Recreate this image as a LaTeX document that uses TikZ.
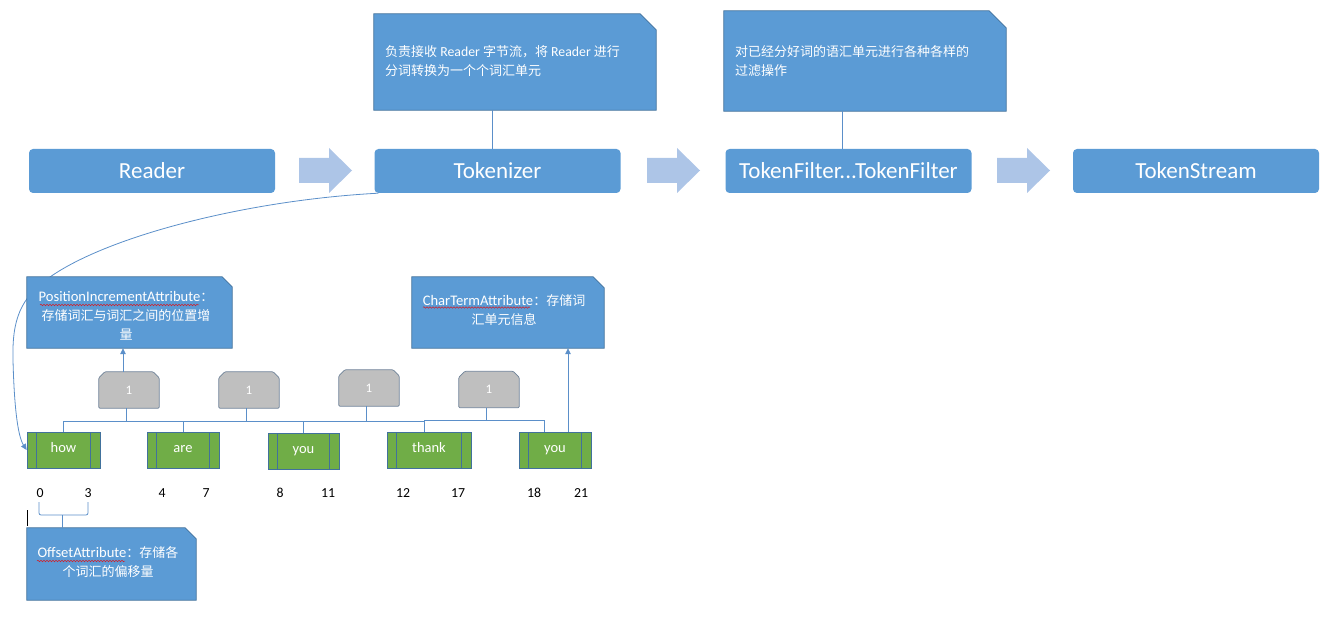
\documentclass[tikz,border=0pt]{standalone}
\usepackage{fontspec}
\setmainfont{Carlito}
\newfontfamily\cjk{Noto Sans CJK SC}
\newcommand\zh[1]{{\fontsize{13}{19}\cjk #1}}
\usetikzlibrary{calc,arrows.meta,decorations.pathmorphing}
\pgfdeclarelayer{bg}
\pgfdeclarelayer{shp}
\pgfsetlayers{bg,shp,main}
\definecolor{mblue}{HTML}{5B9BD5}
\definecolor{bord}{HTML}{41719C}
\definecolor{lblue}{HTML}{ADC5E7}
\definecolor{mgreen}{HTML}{70AD47}
\definecolor{mgray}{HTML}{BFBFBF}
\definecolor{gbord}{HTML}{6F8298}
\definecolor{cline}{HTML}{5B8FC9}
\definecolor{sred}{HTML}{D0202A}
\newcommand\snipTR[2]{\begin{pgfonlayer}{shp}\path[notefill] (#1.north west) -- ($(#1.north east)+(-#2,0)$) -- ($(#1.north east)+(0,#2)$) -- (#1.south east) -- (#1.south west) -- cycle;\end{pgfonlayer}}
\newcommand\snipTop[1]{\begin{pgfonlayer}{shp}\path[grayfill] (#1.south west) -- ($(#1.north west)+(0,6)$) -- ($(#1.north west)+(6,0)$) -- ($(#1.north east)+(-6,0)$) -- ($(#1.north east)+(0,6)$) -- (#1.south east) -- cycle;\end{pgfonlayer}}
\newcommand\blockarrow[1]{\path[barrow] (#1,158) -- ++(30,0) -- ++(0,-10) -- ++(23,22.5) -- ++(-23,22.5) -- ++(0,-10) -- ++(-30,0) -- cycle;}
\begin{document}
\begin{tikzpicture}[x=1pt,y=-1pt,
  mainbox/.style={rectangle, rounded corners=4pt, fill=mblue, text=white, inner sep=0pt,
    minimum width=246pt, minimum height=44pt, font=\fontsize{23}{27}\selectfont},
  area/.style={rectangle, inner sep=0pt},
  notefill/.style={fill=mblue, draw=bord, line width=0.7pt},
  grayfill/.style={fill=mgray, draw=gbord, line width=0.7pt, rounded corners=1pt},
  barrow/.style={fill=lblue},
  notetext/.style={text=white, inner sep=0pt, align=left, font=\fontsize{13.8}{19}\selectfont},
  attrtext/.style={text=white, inner sep=0pt, align=center, font=\fontsize{14.6}{19}\selectfont},
  graybox/.style={rectangle, inner sep=0pt, minimum width=60pt, minimum height=36pt, text=white, font=\fontsize{13}{15}\selectfont},
  gproc/.style={rectangle, fill=mgreen, draw=bord, line width=0.7pt, inner sep=0pt, minimum height=36pt,
    text=white, font=\fontsize{14.5}{17}\selectfont, text height=10pt, text depth=5pt,
    path picture={\draw[bord, line width=0.7pt]
      ([xshift=9.5pt]path picture bounding box.north west) -- ([xshift=9.5pt]path picture bounding box.south west)
      ([xshift=-9.5pt]path picture bounding box.north east) -- ([xshift=-9.5pt]path picture bounding box.south east);}},
  num/.style={inner sep=0pt, text=black, font=\fontsize{13.8}{16}\selectfont},
  conn/.style={draw=cline, line width=0.8pt},
  arr/.style={conn, -{Triangle[length=6pt,width=5.5pt]}},
  squig/.style={draw=sred, line width=0.5pt, decorate, decoration={snake, amplitude=0.8pt, segment length=3pt}}
]
\useasboundingbox (0,0) rectangle (1338,617);

% main flow
\node[mainbox] (reader) at (152,171) {Reader};
\node[mainbox] (tok) at (497.5,171) {Tokenizer};
\node[mainbox] (filt) at (848.5,171) {TokenFilter...TokenFilter};
\node[mainbox] (stream) at (1196,171) {TokenStream};
\blockarrow{299}
\blockarrow{647}
\blockarrow{997}

% top notes
\node[area, minimum width=282pt, minimum height=96pt] (tnote) at (515,62) {};
\snipTR{tnote}{16}
\node[notetext, anchor=west] (tnotet) at (385,61.5) {\zh{负责接收} Reader \zh{字节流，将} Reader \zh{进行}\\\zh{分词转换为一个个词汇单元}};
\node[area, minimum width=282pt, minimum height=100pt] (fnote) at (865,61) {};
\snipTR{fnote}{17}
\node[notetext, anchor=west] (fnotet) at (735,61.5) {\zh{对已经分好词的语汇单元进行各种各样的}\\\zh{过滤操作}};
\draw[conn] ([xshift=-23pt]tnote.south) -- ([xshift=-23pt]tnote.south |- tok.north);
\draw[conn] ([xshift=-23pt]fnote.south) -- ([xshift=-23pt]fnote.south |- filt.north);

% attribute notes
\node[area, minimum width=205pt, minimum height=71pt] (pia) at (129.5,312.5) {};
\snipTR{pia}{10}
\node[attrtext] (piat) at (126,316) {PositionIncrementAttribute\zh{：}\\\zh{存储词汇与词汇之间的位置增}\\\zh{量}};
\node[area, minimum width=192pt, minimum height=71pt] (cta) at (508,312.5) {};
\snipTR{cta}{11}
\node[attrtext] (ctat) at (504,310) {CharTermAttribute\zh{：存储词}\\\zh{汇单元信息}};
\node[area, minimum width=169pt, minimum height=72pt] (ofs) at (111.5,564) {};
\snipTR{ofs}{11}
\node[attrtext] (ofst) at (108,562) {OffsetAttribute\zh{：存储各}\\\zh{个词汇的偏移量}};
\draw[squig] (40,305) -- (199,305);
\draw[squig] (423,307.5) -- (530,307.5);
\draw[squig] (37,561) -- (125,561);

% position increments
\node[graybox] (g1) at (129,390) {1};
\node[graybox] (g2) at (249,390) {1};
\node[graybox] (g3) at (369,388) {1};
\node[graybox] (g4) at (489,389.5) {1};
\snipTop{g1}\snipTop{g2}\snipTop{g3}\snipTop{g4}

% tokens
\node[gproc, minimum width=73pt] (how) at (63.5,450) {how};
\node[gproc, minimum width=72pt] (are) at (183,450) {are};
\node[gproc, minimum width=71pt] (you) at (303.5,451) {you};
\node[gproc, minimum width=84pt] (thank) at (429,450) {thank};
\node[gproc, minimum width=72pt] (you2) at (555,450) {you};

% tree connectors
\coordinate (lv) at (0,421);
\coordinate (lw) at (0,420);
\coordinate (thn) at ([xshift=-5pt]thank.north);
\coordinate (yon) at ([xshift=-11pt]you2.north);
\draw[conn] ([xshift=-3pt]g1.south) -- ([xshift=-3pt]g1.south |- lv);
\draw[conn] (how.north) |- (lv -| are.north) -- (are.north);
\draw[conn] ([xshift=-3pt]g2.south) -- ([xshift=-3pt]g2.south |- lv);
\draw[conn] (are.north |- lv) -- (lv -| you.north) -- (you.north);
\draw[conn] ([xshift=-3pt]g3.south) -- ([xshift=-3pt]g3.south |- lv);
\draw[conn] (you.north |- lv) -- (lv -| thn) -- (thn);
\draw[conn] ([xshift=-3pt]g4.south) -- ([xshift=-3pt]g4.south |- lw);
\draw[conn] (thn |- lw) -- (lw -| yon) -- (yon);

% arrows to attributes
\draw[arr] ([xshift=-6pt]g1.north) -- ([xshift=-6pt]g1.north |- pia.south);
\draw[arr] ([xshift=13pt]you2.north) -- ([xshift=13pt]you2.north |- cta.south);

% long curve from Tokenizer to first token
\begin{pgfonlayer}{bg}
\draw[arr] ([xshift=4pt]tok.south west) .. controls (250,200) and (110,235) .. (50,277)
  .. controls (20,298) and (12,320) .. (13,360)
  .. controls (14,400) and (17,435) .. (how.west);
\end{pgfonlayer}

% offsets
\node[num] (n0) at (40,493) {0};
\node[num] (n3) at (88,493) {3};
\node[num] (n4) at (162,493) {4};
\node[num] (n7) at (206,493) {7};
\node[num] (n8) at (280,493) {8};
\node[num] (n11) at (328,493) {11};
\node[num] (n12) at (403,493) {12};
\node[num] (n17) at (458,493) {17};
\node[num] (n18) at (534,493) {18};
\node[num] (n21) at (581,493) {21};
\coordinate (bt) at (0,502);
\coordinate (bb) at (0,515);
\draw[conn, rounded corners=2pt] ([xshift=-1pt]n0.south |- bt) -- ([xshift=-1pt]n0.south |- bb) -- (n3.south |- bb) -- (n3.south |- bt);
\draw[conn] ([xshift=36pt]ofs.north west) -- ++(0,-13);
\coordinate (tk1) at (27,510);
\coordinate (tk2) at (27,526);
\draw[black, line width=0.6pt] (tk1) -- (tk2);
\end{tikzpicture}
\end{document}
